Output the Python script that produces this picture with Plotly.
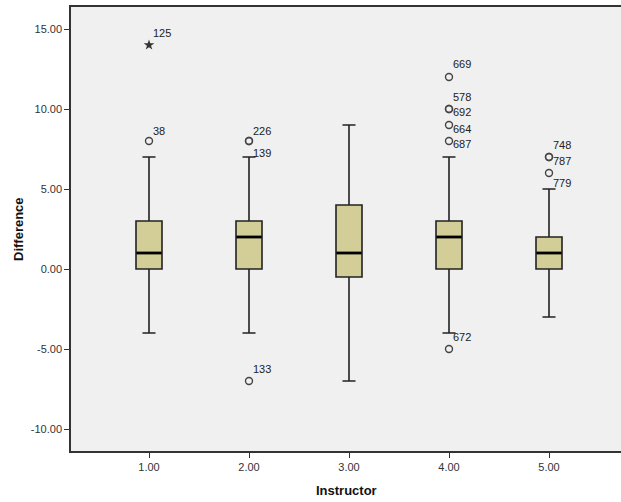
import plotly.graph_objects as go

# ---- data ----
instructors = [1.0, 2.0, 3.0, 4.0, 5.0]
q1 = [0, 0, -0.5, 0, 0]
median = [1, 2, 1, 2, 1]
q3 = [3, 3, 4, 3, 2]
lower_whisker = [-4, -4, -7, -4, -3]
upper_whisker = [7, 7, 9, 7, 5]

outlier_group = [1.0, 1.0, 2.0, 2.0, 2.0, 4.0, 4.0, 4.0, 4.0, 4.0, 4.0, 5.0, 5.0, 5.0]
outlier_value = [14, 8, 8, 8, -7, 12, 10, 10, 9, 8, -5, 7, 7, 6]
outlier_case = ["125", "38", "226", "139", "133", "669", "578", "692", "664", "687", "672", "748", "787", "779"]
outlier_extreme = [True, False, False, False, False, False, False, False, False, False, False, False, False, False]

y_ticks = [-10, -5, 0, 5, 10, 15]

# ---- style ----
label_yshift = [12, 10, 10, -12, 12, 13, 12, -3, -4, -3, 12, 12, -4, -10]
BOX_FILL = "#D3CE98"
BOX_W = 0.26
FONT = "Arial, Liberation Sans, sans-serif"

fig = go.Figure()
for i, x in enumerate(instructors):
    fig.add_trace(go.Box(
        x=[x], q1=[q1[i]], median=[median[i]], q3=[q3[i]],
        lowerfence=[lower_whisker[i]], upperfence=[upper_whisker[i]],
        width=BOX_W, whiskerwidth=0.5, boxpoints=False,
        fillcolor=BOX_FILL, line=dict(color="#222222", width=1.6),
        showlegend=False, hoverinfo="skip",
    ))
    # median bar (thicker, black)
    fig.add_trace(go.Scatter(
        x=[x - BOX_W / 2 + 0.005, x + BOX_W / 2 - 0.005], y=[median[i], median[i]],
        mode="lines", line=dict(color="black", width=2.8),
        showlegend=False, hoverinfo="skip",
    ))

circ_x = [g for g, e in zip(outlier_group, outlier_extreme) if not e]
circ_y = [v for v, e in zip(outlier_value, outlier_extreme) if not e]
star_x = [g for g, e in zip(outlier_group, outlier_extreme) if e]
star_y = [v for v, e in zip(outlier_value, outlier_extreme) if e]

fig.add_trace(go.Scatter(
    x=circ_x, y=circ_y, mode="markers",
    marker=dict(symbol="circle-open", size=7, color="#444444", line=dict(width=1.4)),
    showlegend=False, hoverinfo="skip",
))
fig.add_trace(go.Scatter(
    x=star_x, y=star_y, mode="markers",
    marker=dict(symbol="star", size=8, color="#333333"),
    showlegend=False, hoverinfo="skip",
))

for g, v, c, ys in zip(outlier_group, outlier_value, outlier_case, label_yshift):
    fig.add_annotation(
        x=g, y=v, text=c, showarrow=False, xanchor="left", yanchor="middle",
        xshift=2, yshift=ys, font=dict(family=FONT, size=11, color="#222222"),
    )

fig.add_annotation(
    xref="paper", yref="paper", x=0, y=0.5, xshift=-53, text="<b>Difference</b>",
    textangle=-90, showarrow=False, xanchor="center", yanchor="middle",
    font=dict(family=FONT, size=13, color="#111111"),
)
fig.add_annotation(
    xref="paper", yref="paper", x=0.5, y=0, yshift=-39, text="<b>Instructor</b>",
    showarrow=False, xanchor="center", yanchor="middle",
    font=dict(family=FONT, size=13, color="#111111"),
)

fig.update_layout(
    width=621, height=502,
    margin=dict(l=71, r=0, t=7, b=51),
    paper_bgcolor="white", plot_bgcolor="#F0F0F0",
    font=dict(family=FONT, size=11, color="#333333"),
    xaxis=dict(
        range=[0.22, 5.72], tickvals=instructors,
        ticktext=[f"{v:.2f}" for v in instructors],
        showgrid=False, zeroline=False, showline=True, linecolor="#333333", linewidth=1.5,
        mirror=True, ticks="outside", ticklen=5, tickcolor="#333333",
        tickfont=dict(size=11, color="#333333"),
    ),
    yaxis=dict(
        range=[-11.375, 16.375], tickvals=y_ticks,
        ticktext=[f"{v:.2f}" for v in y_ticks],
        showgrid=False, zeroline=False, showline=True, linecolor="#333333", linewidth=1.5,
        ticks="outside", ticklen=5, tickcolor="#333333",
        tickfont=dict(size=11, color="#333333"),
    ),
)

fig.write_html(
    "out.html",
    config={"displayModeBar": False},
    post_script="document.body.style.margin='0';document.body.style.overflow='hidden';",
)
